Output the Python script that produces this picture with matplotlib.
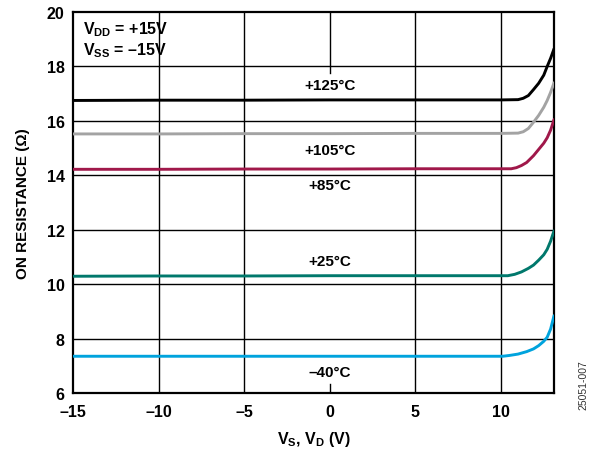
import matplotlib
matplotlib.use("Agg")
import matplotlib.pyplot as plt

plt.rcParams['font.family'] = ['Liberation Sans', 'DejaVu Sans']
plt.rcParams['font.weight'] = 'bold'
plt.rcParams['mathtext.fontset'] = 'custom'
plt.rcParams['mathtext.rm'] = 'Liberation Sans:bold'
plt.rcParams['mathtext.bf'] = 'Liberation Sans:bold'
plt.rcParams['mathtext.it'] = 'Liberation Sans:bold'

# ---- data ----
x_125 = [-15, -10, -5, 0, 5, 10, 11.0, 11.3, 11.6, 11.9, 12.2, 12.5, 12.7, 12.9, 13.1]
r_125 = [16.75, 16.76, 16.76, 16.77, 16.77, 16.77, 16.78, 16.83, 16.93, 17.15, 17.38, 17.68, 18.0, 18.3, 18.65]

x_105 = [-15, -10, -5, 0, 5, 10, 11.0, 11.3, 11.6, 11.9, 12.2, 12.5, 12.7, 12.9, 13.1]
r_105 = [15.52, 15.52, 15.53, 15.53, 15.54, 15.54, 15.55, 15.6, 15.72, 15.95, 16.2, 16.5, 16.75, 17.05, 17.4]

x_85 = [-15, -10, -5, 0, 5, 10, 10.6, 10.9, 11.2, 11.5, 11.9, 12.2, 12.5, 12.7, 12.9, 13.1]
r_85 = [14.22, 14.22, 14.23, 14.23, 14.24, 14.24, 14.24, 14.28, 14.36, 14.47, 14.72, 14.95, 15.18, 15.38, 15.66, 16.05]

x_25 = [-15, -10, -5, 0, 5, 10, 10.4, 10.8, 11.2, 11.6, 11.9, 12.2, 12.5, 12.7, 12.9, 13.1]
r_25 = [10.29, 10.3, 10.3, 10.31, 10.31, 10.31, 10.31, 10.36, 10.45, 10.58, 10.7, 10.88, 11.08, 11.28, 11.58, 11.96]

x_m40 = [-15, -10, -5, 0, 5, 10, 10.1, 10.5, 11.0, 11.5, 11.9, 12.2, 12.5, 12.7, 12.9, 13.1]
r_m40 = [7.35, 7.35, 7.35, 7.35, 7.35, 7.35, 7.35, 7.38, 7.43, 7.52, 7.62, 7.74, 7.9, 8.05, 8.35, 8.84]

series = [
    (x_125, r_125, '#000000', '+125°C', 17.32),
    (x_105, r_105, '#A3A3A3', '+105°C', 14.93),
    (x_85, r_85, '#A0184A', '+85°C', 13.65),
    (x_25, r_25, '#00786C', '+25°C', 10.85),
    (x_m40, r_m40, '#00A3DD', '–40°C', 6.77),
]

x_ticks = [-15, -10, -5, 0, 5, 10]
x_tick_labels = ['–15', '–10', '–5', '0', '5', '10']
y_ticks = [6, 8, 10, 12, 14, 16, 18, 20]
y_tick_labels = ['6', '8', '10', '12', '14', '16', '18', '20']

fig = plt.figure(figsize=(6.0, 4.6), dpi=100)
ax = fig.add_axes([0.1217, 0.1435, 0.8017, 0.8282])
ax.set_xlim(-15, 13.1)
ax.set_ylim(6, 20)

# grid
for yv in y_ticks[1:-1]:
    ax.axhline(yv, color='black', lw=1.0, zorder=1)
for xv in [-10, -5, 5, 10]:
    ax.axvline(xv, color='black', lw=1.0, zorder=1)
ax.axvline(0, ymin=0.84, ymax=1.0, color='black', lw=1.0, zorder=1)
ax.axvline(0, ymin=0.0, ymax=0.024, color='black', lw=1.0, zorder=1)

for xs, rs, c, lab, ly in series:
    ax.plot(xs, rs, color=c, lw=2.1, zorder=3, solid_capstyle='round', solid_joinstyle='round')
    ax.text(0, ly, lab, ha='center', va='center', fontsize=11, fontweight='bold',
            zorder=4)

for sp in ax.spines.values():
    sp.set_linewidth(1.6)

ax.set_xticks(x_ticks)
ax.set_xticklabels(x_tick_labels)
ax.set_yticks(y_ticks)
ax.set_yticklabels(y_tick_labels)
ax.tick_params(axis='x', length=0, labelsize=11.5, pad=8)
ax.tick_params(axis='y', length=0, labelsize=11.5, pad=6)
for t in ax.get_xticklabels() + ax.get_yticklabels():
    t.set_fontweight('bold')

ax.set_xlabel(r'V$_{\mathrm{S}}$, V$_{\mathrm{D}}$ (V)', fontsize=11.5, fontweight='bold', labelpad=7)
ax.set_ylabel('ON RESISTANCE (Ω)', fontsize=11, fontweight='bold', labelpad=12)

ax.text(0.021, 0.982, r'V$_{\mathrm{DD}}$ = +15V', transform=ax.transAxes, ha='left', va='top',
        fontsize=11.5, fontweight='bold')
ax.text(0.021, 0.925, r'V$_{\mathrm{SS}}$ = –15V', transform=ax.transAxes, ha='left', va='top',
        fontsize=11.5, fontweight='bold')

fig.text(0.972, 0.163, '25051-007', rotation=90, ha='center', va='center', fontsize=7.5,
         fontweight='normal', color='#333333')

fig.savefig('out.png', dpi=100)
